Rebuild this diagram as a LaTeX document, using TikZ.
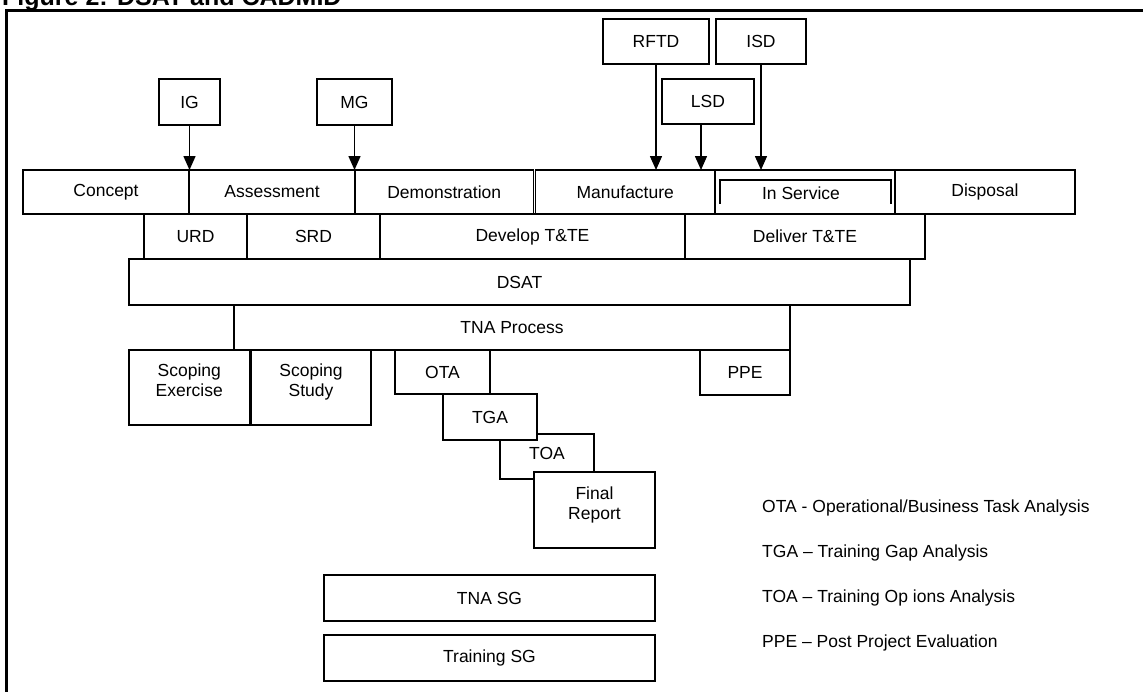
\documentclass[tikz,border=0pt]{standalone}
\usepackage{fontspec}
\setmainfont{Liberation Sans}
\usetikzlibrary{arrows.meta}
\newcommand\figfont{\fontsize{17.5}{20}\selectfont}
\tikzset{
  box/.style={draw, fill=white, line width=1.3pt, inner sep=0pt, outer sep=0pt, anchor=north west, font=\figfont},
  lbl/.style={inner sep=0pt, align=center, anchor=north, font=\figfont},
  arr/.style={line width=1.5pt, -{Triangle[width=12pt,length=14pt]}},
  legend/.style={anchor=base west, inner sep=0pt, font=\figfont},
}
\newcommand\bx[6]{\node[box, minimum width={#4-#2}, minimum height={#5-#3}] (#1) at (#2,#3) {#6};}
\begin{document}
\begin{tikzpicture}[x=1pt,y=-1pt]
\useasboundingbox (0,0) rectangle (1143,691);
% title and frame
\node[anchor=base west, inner sep=0pt, font=\bfseries\fontsize{25}{28}\selectfont] (title) at (2,5) {Figure 2: DSAT and CADMID};
\draw[line width=2.5pt] (6.5,700) -- (6.5,10.5) -- (1150,10.5);
% gate / document boxes
\bx{ig}{159}{79}{220}{125}{IG}
\bx{mg}{317}{79}{392}{125}{MG}
\bx{rftd}{603}{19}{709}{64}{RFTD}
\bx{isd}{716}{19}{806}{64}{ISD}
\bx{lsd}{662}{79}{754}{124}{LSD}
% CADMID row
\bx{concept}{23}{170}{189}{214}{Concept}
\bx{assess}{189}{170}{355}{214}{Assessment}
\bx{demo}{355}{170}{533.5}{214}{Demonstration}
\bx{manuf}{535.5}{170}{715}{214}{Manufacture}
\bx{insvc}{715}{170}{895}{214}{}
\node[inner sep=0pt, font=\figfont] (insvc-t) at (801,193) {In Service};
\draw[line width=2pt] (720,204) -- (720,180) -- (891,180) -- (891,204);
\bx{disp}{895}{170}{1075}{214}{Disposal}
% second row
\bx{urd}{144}{214}{247}{259}{URD}
\bx{srd}{247}{214}{380}{259}{SRD}
\bx{dev}{380}{214}{685}{259}{Develop T\&TE}
\bx{del}{685}{214}{925}{259}{Deliver T\&TE}
% DSAT and TNA
\bx{dsat}{129}{259}{910}{305}{DSAT}
\bx{tna}{234}{305}{790}{350}{TNA Process}
% TNA steps
\bx{sce}{129}{350}{249.5}{425}{}
\node[lbl, yshift=-14pt] (sce-t) at (sce.north) {Scoping\\Exercise};
\bx{scs}{251}{350}{371}{425}{}
\node[lbl, yshift=-14pt] (scs-t) at (scs.north) {Scoping\\Study};
\bx{ota}{395}{350}{490}{394}{OTA}
\bx{toa}{500}{434}{594}{479}{}
\node[inner sep=0pt, font=\figfont] (toa-t) at (547,453) {TOA};
\bx{tga}{443}{394}{537}{440}{TGA}
\bx{fin}{534}{472}{655}{548}{}
\node[lbl, yshift=-15pt] (fin-t) at (fin.north) {Final\\Report};
\bx{ppe}{700}{350}{790}{395}{PPE}
% steering groups
\bx{tnasg}{324}{575}{655}{621}{TNA SG}
\bx{trsg}{324}{635}{655}{681}{Training SG}
% arrows
\draw[arr] (ig.south) -- (ig.south |- assess.north);
\draw[arr] (mg.south) -- (mg.south |- demo.north);
\draw[arr] (rftd.south) -- (rftd.south |- manuf.north);
\draw[arr] ([xshift=-7pt]lsd.south) -- ([xshift=-7pt]lsd.south |- manuf.north);
\draw[arr] (isd.south) -- (isd.south |- insvc.north);
% legend
\node[legend] (l1) at (762,512) {OTA - Operational/Business Task Analysis};
\node[legend] (l2) at (762,557) {TGA – Training Gap Analysis};
\node[legend] (l3) at (762,602) {TOA – Training Op ions Analysis};
\node[legend] (l4) at (762,647) {PPE – Post Project Evaluation};
\end{tikzpicture}
\end{document}
